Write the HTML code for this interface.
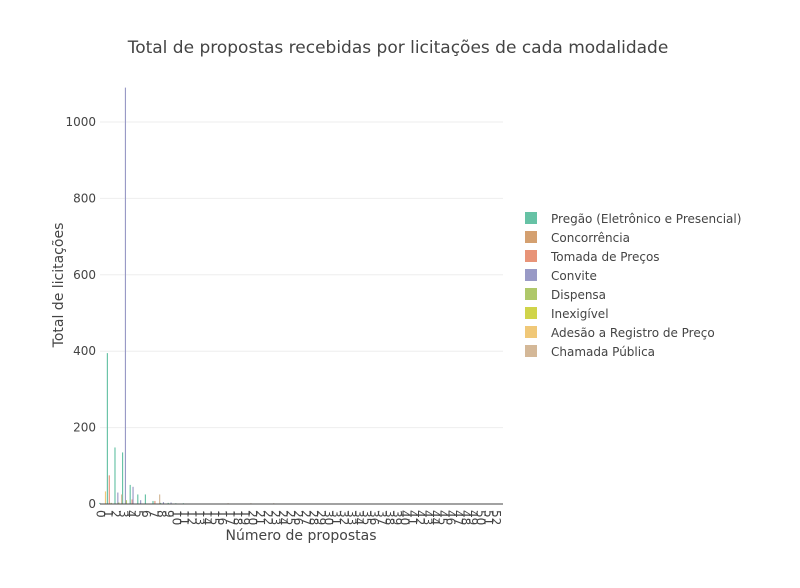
<!DOCTYPE html>
<html><head><meta charset="utf-8"><style>
body{margin:0;background:#fff;font-family:"DejaVu Sans","Liberation Sans",sans-serif}
svg text{font-family:"DejaVu Sans","Liberation Sans",sans-serif;fill:#444}
</style></head><body>
<svg id="c" width="800" height="584">
<text x="398" y="53" text-anchor="middle" font-size="17">Total de propostas recebidas por licitações de cada modalidade</text>
<g id="grid"></g><g id="bars"></g><g id="axes"></g>
<text x="301" y="540" text-anchor="middle" font-size="14">Número de propostas</text>
<text transform="translate(63,285) rotate(-90)" text-anchor="middle" font-size="14">Total de licitações</text>
<g id="legend"></g>
</svg>
<script>
const series=["Pregão (Eletrônico e Presencial)","Concorrência","Tomada de Preços","Convite","Dispensa","Inexigível","Adesão a Registro de Preço","Chamada Pública"];
const colors=["#66c2a5","#d4a070","#e89478","#999ac6","#afc86a","#d0d44a","#f0c878","#d4b898"];
const nCats=53;
const pregao=[3,395,148,135,50,25,25,8,3,3,2,2,1,1,1,0,0,0,0,1,0,0,0,0,0,0,0,0,0,0,0,0,0,0,0,0,0,0,0,0,0,0,0,0,0,0,0,0,0,0,0,0,0];
const concorrencia=[0,0,0,0,0,0,0,0,0,0,0,0,0,0,0,0,0,0,0,0,0,0,0,0,0,0,0,0,0,0,0,0,0,0,0,0,0,0,0,0,0,0,0,0,0,0,0,0,0,0,0,0,0];
const tomada=[0,75,0,0,12,0,0,8,0,0,0,0,0,0,0,0,0,1,0,0,0,0,0,0,0,0,0,0,0,0,0,0,0,0,0,0,0,0,0,0,0,0,0,0,0,0,0,0,0,0,0,0,0];
const convite=[0,0,30,1090,45,10,0,0,5,4,0,0,0,0,0,0,0,0,0,0,0,0,0,0,0,0,0,0,0,0,0,0,0,0,0,0,0,0,0,0,0,0,0,0,0,0,0,0,0,0,0,0,0];
const dispensa=[0,3,4,10,0,0,0,0,0,0,0,0,0,0,0,0,0,0,0,0,0,0,0,0,0,0,0,0,0,0,0,0,0,0,0,0,0,0,0,0,0,0,0,0,0,0,0,0,0,0,0,0,0];
const inexigivel=[0,0,0,0,0,0,0,0,0,0,0,0,0,0,0,0,0,0,0,0,0,0,0,0,0,0,0,0,0,0,0,0,0,0,0,0,0,0,0,0,0,0,0,0,0,0,0,0,0,0,0,0,0];
const adesao=[33,0,0,0,0,0,0,0,0,0,0,0,0,0,0,0,0,0,0,0,0,0,0,0,0,0,0,0,0,0,0,0,0,0,0,0,0,0,0,0,0,0,0,0,0,0,0,0,0,0,0,0,0];
const chamada=[0,0,25,0,0,0,0,25,0,0,0,0,0,0,0,0,2,0,0,2,0,0,2,0,0,0,0,0,0,0,0,0,0,0,0,0,0,0,0,0,0,0,0,0,0,0,0,0,0,0,0,0,0];
const yTicks=[0,200,400,600,800,1000];
const all=[pregao,concorrencia,tomada,convite,dispensa,inexigivel,adesao,chamada];
const NS="http://www.w3.org/2000/svg";
const X0=100,X1=503,Y0=504;
const band=(X1-X0)/nCats;
const x=(c,s)=>X0+band*c+s*band/8-0.8;
const y=v=>Y0-v*0.382;
function mk(t,a,p){const e=document.createElementNS(NS,t);for(const k in a)e.setAttribute(k,a[k]);p.appendChild(e);return e;}
const G=document.getElementById('grid'),B=document.getElementById('bars'),A=document.getElementById('axes'),L=document.getElementById('legend');
yTicks.forEach(t=>{
  if(t>0){const g=mk('line',{x1:X0,x2:X1,y1:y(t),y2:y(t),stroke:'#eee'},G);
  
  }
  const tx=mk('text',{x:X0-4,y:y(t)+4,'text-anchor':'end','font-size':12},A);tx.textContent=t;
  
  
});
all.forEach((arr,s)=>arr.forEach((v,c)=>{if(v<=0)return;
  const r=mk('rect',{x:x(c,s),y:y(v),width:band/8+0.2,height:Y0-y(v),fill:colors[s]},B);
  
  
}));
const ax=mk('line',{x1:X0,x2:X1,y1:Y0,y2:Y0,stroke:'#444'},A);


for(let c=0;c<nCats;c++){const cx=X0+band*c-3.5;
  const t=mk('text',{transform:`translate(${cx},510) rotate(90)`,'font-size':12},A);t.textContent=c;
  
  }
series.forEach((n,i)=>{const g=mk('g',{},L);
  
  
  mk('rect',{x:525,y:212+i*19,width:12,height:12,fill:colors[i]},g);
  const t=mk('text',{x:551,y:223+i*19,'font-size':12},g);t.textContent=n;});
</script>
</body></html>
